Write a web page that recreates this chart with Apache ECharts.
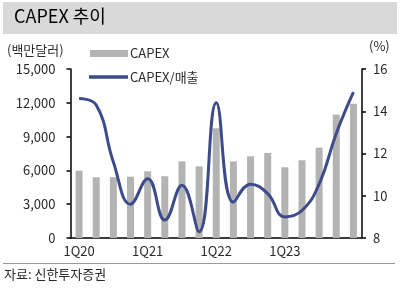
<!DOCTYPE html>
<html><head><meta charset="utf-8">
<script src="https://cdn.jsdelivr.net/npm/echarts@6/dist/echarts.min.js"></script>
<style>html,body{margin:0;padding:0;background:#fff}#c{width:400px;height:289px}</style>
</head><body><div id="c"></div>
<script>
var quarters = ['1Q20','2Q20','3Q20','4Q20','1Q21','2Q21','3Q21','4Q21','1Q22','2Q22','3Q22','4Q22','1Q23','2Q23','3Q23','4Q23','1Q24'];
var xTickLabels = ['1Q20','1Q21','1Q22','1Q23'];
var capex = [5970, 5390, 5400, 5440, 5920, 5480, 6800, 6360, 9740, 6800, 7250, 7550, 6280, 6900, 8020, 10950, 11920];
var capexRatio = [14.6, 14.3, 11.6, 9.6, 10.8, 8.85, 10.5, 8.3, 14.4, 9.7, 10.55, 10.1, 9.0, 9.3, 10.55, 12.95, 14.9];
var leftTicks = {min: 0, max: 15000, interval: 3000};
var rightTicks = {min: 8, max: 16, interval: 2};

var FONT = '"Noto Sans CJK KR", "Noto Sans", sans-serif';
var TXT = '#2a2a2a';
var chart = echarts.init(document.getElementById('c'), null, {renderer: 'canvas'});
chart.setOption({
  animation: false,
  textStyle: {fontFamily: FONT},
  grid: {left: 70.5, right: 38, top: 69, bottom: 51, containLabel: false},
  legend: [
    {orient: 'vertical', left: 90, top: 47, padding: 0,
     itemWidth: 38, itemHeight: 7,
     textStyle: {fontFamily: FONT, fontSize: 13, color: TXT, padding: [0, 0, 0, -3]},
     data: [{name: 'CAPEX', icon: 'rect'}]},
    {orient: 'vertical', left: 89, top: 70.5, padding: 0,
     itemWidth: 39, itemHeight: 3.5,
     textStyle: {fontFamily: FONT, fontSize: 13, color: TXT, padding: [0, 0, 0, -3]},
     data: [{name: 'CAPEX/매출', icon: 'rect'}]}
  ],
  xAxis: {
    type: 'category', data: quarters, boundaryGap: true,
    axisLine: {lineStyle: {color: '#000', width: 1.5}},
    axisTick: {interval: 3, length: 4, lineStyle: {color: '#000', width: 1.5}},
    axisLabel: {
      interval: 0, margin: 7, fontSize: 13, color: TXT, fontFamily: FONT,
      formatter: function (v) { return xTickLabels.indexOf(v) >= 0 ? v : ''; }
    }
  },
  yAxis: [
    {type: 'value', min: leftTicks.min, max: leftTicks.max, interval: leftTicks.interval,
     axisLine: {show: true, lineStyle: {color: '#000', width: 1.5}},
     axisTick: {show: true, length: 4, lineStyle: {color: '#000', width: 1.5}},
     splitLine: {show: false},
     axisLabel: {margin: 15, fontSize: 13, color: TXT, fontFamily: FONT,
       formatter: function (v) { return v.toLocaleString('en-US'); }}},
    {type: 'value', min: rightTicks.min, max: rightTicks.max, interval: rightTicks.interval,
     position: 'right',
     axisLine: {show: true, lineStyle: {color: '#000', width: 1.5}},
     axisTick: {show: true, length: 4, lineStyle: {color: '#000', width: 1.5}},
     splitLine: {show: false},
     axisLabel: {margin: 11, fontSize: 13, color: TXT, fontFamily: FONT}}
  ],
  series: [
    {name: 'CAPEX', type: 'bar', data: capex, barWidth: 7, yAxisIndex: 0,
     itemStyle: {color: '#B3B3B3'}},
    {name: 'CAPEX/매출', type: 'line', data: capexRatio, yAxisIndex: 1, smooth: 0.45,
     symbol: 'none', lineStyle: {color: '#3E4B8B', width: 3}, itemStyle: {color: '#3E4B8B'}}
  ],
  graphic: [
    {type: 'rect', left: 3, top: 2, shape: {width: 394, height: 32}, style: {fill: '#D9D9D9'}, z: 0},
    {type: 'text', left: 14, top: 7, style: {text: 'CAPEX 추이', font: '18px ' + FONT, fill: '#000'}},
    {type: 'text', left: 7, top: 44, style: {text: '(백만달러)', font: '13px ' + FONT, fill: TXT}},
    {type: 'text', left: 369, top: 40, style: {text: '(%)', font: '13px ' + FONT, fill: TXT}},
    {type: 'line', shape: {x1: 3, y1: 263.5, x2: 395, y2: 263.5}, style: {stroke: '#999', lineWidth: 1}},
    {type: 'text', left: 4, top: 268, style: {text: '자료: 신한투자증권', font: '13px ' + FONT, fill: TXT}}
  ]
});
</script></body></html>
